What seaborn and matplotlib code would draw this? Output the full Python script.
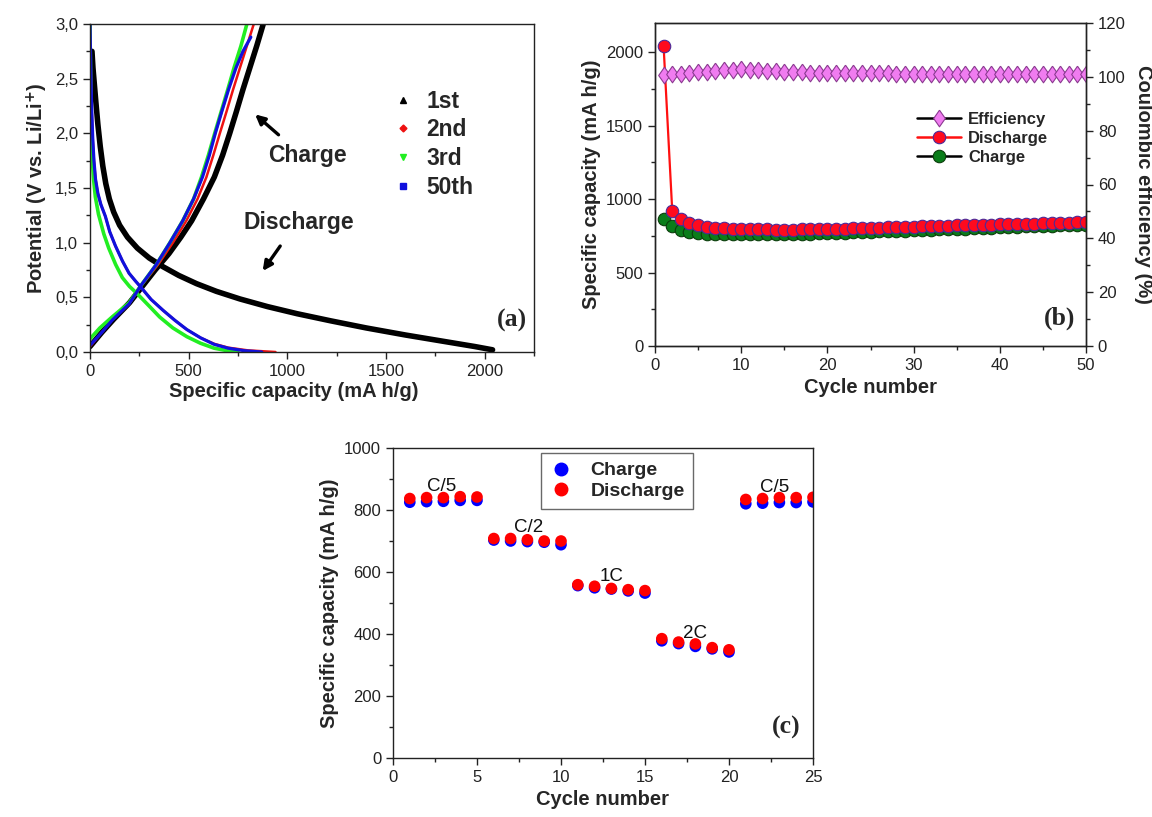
import matplotlib
matplotlib.use("Agg")
import matplotlib.pyplot as plt
import seaborn as sns
import pandas as pd
from matplotlib.ticker import MultipleLocator, FuncFormatter
from matplotlib.lines import Line2D

sns.set_style("ticks")
plt.rcParams['font.family'] = ['Liberation Sans', 'DejaVu Sans']
plt.rcParams['axes.linewidth'] = 1.0
plt.rcParams['axes.edgecolor'] = '#222222'

# ---------------- (a) charge / discharge profiles ----------------
# capacity (mA h/g) and potential (V)
cap_d1 = [10, 15, 22, 30, 40, 52, 65, 80, 98, 120, 150, 190, 240, 300, 370, 450, 540, 640, 760, 900, 1050,
          1220, 1400, 1600, 1800, 1950, 2040]
v_d1 = [2.75, 2.6, 2.45, 2.28, 2.08, 1.88, 1.70, 1.54, 1.40, 1.28, 1.16, 1.05, 0.95, 0.86, 0.78, 0.70, 0.625,
        0.555, 0.485, 0.415, 0.35, 0.285, 0.22, 0.155, 0.095, 0.05, 0.02]
cap_c1 = [0, 60, 120, 200, 265, 330, 400, 460, 515, 575, 630, 672, 708, 742, 775, 810, 845, 878]
v_c1 = [0.05, 0.18, 0.30, 0.45, 0.60, 0.75, 0.90, 1.05, 1.2, 1.4, 1.6, 1.8, 2.0, 2.2, 2.4, 2.6, 2.8, 3.0]

cap_d2 = [0, 2, 5, 9, 14, 20, 28, 40, 55, 78, 100, 129, 165, 198, 230, 259, 310, 371, 430, 491, 560, 629,
          700, 800, 940]
v_d2 = [3.0, 2.8, 2.5, 2.2, 1.95, 1.75, 1.58, 1.45, 1.35, 1.24, 1.1, 0.97, 0.83, 0.72, 0.65, 0.59, 0.48, 0.38,
        0.29, 0.205, 0.13, 0.075, 0.04, 0.015, 0.0]
cap_c2 = [0, 60, 112, 198, 262, 345, 420, 488, 545, 590, 625, 658, 692, 725, 760, 795, 830]
v_c2 = [0.05, 0.18, 0.29, 0.44, 0.61, 0.80, 1.0, 1.2, 1.4, 1.6, 1.8, 2.0, 2.2, 2.4, 2.6, 2.8, 3.0]

cap_d3 = [0, 1, 3, 5, 8, 12, 18, 27, 43, 70, 95, 130, 164, 200, 241, 300, 353, 420, 491, 560, 629, 700, 750]
v_d3 = [3.0, 2.8, 2.5, 2.2, 1.95, 1.75, 1.58, 1.42, 1.26, 1.08, 0.95, 0.80, 0.68, 0.60, 0.53, 0.42, 0.32, 0.22,
        0.14, 0.08, 0.035, 0.01, 0.0]
cap_c3 = [0, 50, 112, 198, 259, 336, 405, 470, 525, 565, 600, 632, 665, 698, 730, 765, 795]
v_c3 = [0.12, 0.22, 0.32, 0.45, 0.61, 0.80, 1.0, 1.2, 1.4, 1.6, 1.8, 2.0, 2.2, 2.4, 2.6, 2.8, 3.0]

cap_d50 = [0, 2, 5, 9, 14, 20, 28, 40, 55, 78, 100, 129, 165, 198, 230, 259, 310, 371, 430, 491, 560, 629,
           700, 780, 870]
v_d50 = [3.0, 2.8, 2.5, 2.2, 1.95, 1.75, 1.58, 1.45, 1.35, 1.24, 1.1, 0.97, 0.83, 0.72, 0.65, 0.59, 0.48, 0.38,
         0.29, 0.205, 0.13, 0.07, 0.035, 0.012, 0.0]
cap_c50 = [0, 60, 112, 198, 259, 336, 405, 470, 525, 570, 605, 635, 668, 702, 740, 775, 815]
v_c50 = [0.06, 0.18, 0.29, 0.44, 0.61, 0.80, 1.0, 1.2, 1.4, 1.6, 1.8, 2.0, 2.2, 2.4, 2.6, 2.75, 2.88]

# ---------------- (b) cycling ----------------
cycles_b = list(range(1, 51))
discharge_b = [2040, 920, 866, 840, 824, 813, 806, 801, 798, 796, 795, 794, 794, 793, 793, 792, 794, 795, 796, 797,
               799, 800, 801, 803, 805, 806, 808, 809, 811, 813, 815, 816, 818, 819, 821, 822, 823, 825, 827, 828,
               830, 831, 832, 834, 836, 837, 838, 840, 842, 843]
charge_b = [868, 815, 790, 777, 770, 766, 763, 762, 761, 761, 761, 761, 761, 762, 762, 763, 764, 765, 767, 768,
            770, 772, 774, 776, 778, 780, 782, 784, 786, 788, 790, 792, 794, 796, 798, 800, 802, 804, 806, 808,
            810, 812, 814, 816, 818, 819, 821, 823, 825, 827]
efficiency_b = [100.6, 100.9, 101.1, 101.4, 101.7, 101.9, 102.2, 102.5, 102.7, 102.8, 102.7, 102.5, 102.3, 102.1,
                101.9, 101.8, 101.7, 101.6, 101.5, 101.5, 101.4, 101.4, 101.4, 101.3, 101.3, 101.3, 101.3, 101.2,
                101.2, 101.2, 101.2, 101.2, 101.2, 101.1, 101.1, 101.1, 101.1, 101.1, 101.1, 101.1, 101.1, 101.0,
                101.0, 101.0, 101.0, 101.0, 101.0, 101.0, 101.0, 101.0]

# ---------------- (c) rate capability ----------------
cycles_c = list(range(1, 26))
charge_c = [825, 827, 828, 831, 831, 703, 700, 698, 696, 688, 556, 549, 545, 539, 532,
            378, 369, 360, 352, 342, 820, 822, 824, 824, 826]
discharge_c = [837, 840, 840, 843, 842, 708, 708, 704, 700, 700, 559, 554, 547, 543, 540,
               385, 374, 368, 356, 349, 834, 837, 840, 840, 841]
rate_labels = ["C/5", "C/2", "1C", "2C", "C/5"]
rate_x = [2.9, 8.1, 13.0, 18.0, 22.7]
rate_y = [876, 742, 586, 403, 874]

W, H = 1152, 817


def box(l, t, r, b):
    return [l / W, 1 - b / H, (r - l) / W, (b - t) / H]


fig = plt.figure(figsize=(11.52, 8.17), dpi=100)
ax_a = fig.add_axes(box(90, 24, 534, 352))
ax_b = fig.add_axes(box(655, 23, 1086, 346))
ax_c = fig.add_axes(box(393, 448, 813, 758))

label_kw = dict(fontsize=14.5, fontweight='bold')
serif = dict(family=['Liberation Serif', 'DejaVu Serif'], fontweight='bold', fontsize=18.5)


def style_ticks(ax, left=True, right=False):
    ax.tick_params(which='both', direction='out', top=False, right=right, left=left,
                   labelsize=12, colors='#222222', width=1)
    ax.tick_params(which='major', length=5)
    ax.tick_params(which='minor', length=3)


# ---- (a)
curves = [
    (cap_d1, v_d1, 'black', 4.0), (cap_c1, v_c1, 'black', 4.0),
    (cap_d2, v_d2, '#ee1111', 1.8), (cap_c2, v_c2, '#ee1111', 1.8),
    (cap_d3, v_d3, '#22ee22', 2.6), (cap_c3, v_c3, '#22ee22', 2.6),
    (cap_d50, v_d50, '#1010dd', 2.3), (cap_c50, v_c50, '#1010dd', 2.3),
]
for cap, v, col, lw in curves:
    df = pd.DataFrame({'cap': cap, 'V': v})
    sns.lineplot(data=df, x='cap', y='V', sort=False, estimator=None, color=col, lw=lw, ax=ax_a)

ax_a.set_xlim(0, 2250)
ax_a.set_ylim(0, 3.0)
ax_a.xaxis.set_major_locator(MultipleLocator(500))
ax_a.xaxis.set_minor_locator(MultipleLocator(250))
ax_a.yaxis.set_major_locator(MultipleLocator(0.5))
ax_a.yaxis.set_minor_locator(MultipleLocator(0.25))
ax_a.yaxis.set_major_formatter(FuncFormatter(lambda v, p: f"{v:.1f}".replace('.', ',')))
style_ticks(ax_a)
ax_a.set_xlabel('Specific capacity (mA h/g)', **label_kw)
ax_a.xaxis.set_label_coords(0.46, -0.09)
ax_a.set_ylabel(r'Potential (V vs. Li/Li$^{\mathbf{+}}$)', **label_kw)

handles_a = [
    Line2D([], [], ls='none', marker='^', color='black', ms=5),
    Line2D([], [], ls='none', marker='D', color='#ee1111', ms=3.5),
    Line2D([], [], ls='none', marker='v', color='#22ee22', ms=5),
    Line2D([], [], ls='none', marker='s', color='#1010dd', ms=4),
]
ax_a.legend(handles_a, ['1st', '2nd', '3rd', '50th'], loc='upper left', bbox_to_anchor=(0.68, 0.80),
            frameon=False, prop={'weight': 'bold', 'size': 16.5}, handlelength=1.0, handletextpad=0.5,
            labelspacing=0.25, borderpad=0, borderaxespad=0)
ax_a.annotate('', xy=(826, 2.19), xytext=(966, 1.97),
              arrowprops=dict(arrowstyle='-|>', color='black', lw=2.4, mutation_scale=14))
ax_a.text(1102, 1.80, 'Charge', ha='center', va='center', fontsize=16.5, fontweight='bold')
ax_a.annotate('', xy=(867, 0.72), xytext=(972, 0.99),
              arrowprops=dict(arrowstyle='-|>', color='black', lw=2.4, mutation_scale=14))
ax_a.text(1057, 1.18, 'Discharge', ha='center', va='center', fontsize=16.5, fontweight='bold')
ax_a.text(0.985, 0.06, '(a)', transform=ax_a.transAxes, ha='right', va='bottom', **serif)

# ---- (b)
sns.lineplot(x=cycles_b, y=charge_b, color='black', lw=1.2, marker='o', ms=9,
             markerfacecolor='#0a7d1a', markeredgecolor='#0b3d0b', markeredgewidth=0.8, ax=ax_b)
sns.lineplot(x=cycles_b, y=discharge_b, color='#ff1010', lw=1.6, marker='o', ms=9,
             markerfacecolor='#ff0a1e', markeredgecolor='#4a2a9a', markeredgewidth=0.8, ax=ax_b)
ax_b.set_xlim(0, 50)
ax_b.set_ylim(0, 2200)
ax_b.xaxis.set_major_locator(MultipleLocator(10))
ax_b.xaxis.set_minor_locator(MultipleLocator(5))
ax_b.yaxis.set_major_locator(MultipleLocator(500))
ax_b.yaxis.set_minor_locator(MultipleLocator(250))
style_ticks(ax_b)
ax_b.set_xlabel('Cycle number', **label_kw)
ax_b.set_ylabel('Specific capacity (mA h/g)', **label_kw)

diamond = [(0, 1), (0.7, 0), (0, -1), (-0.7, 0), (0, 1)]
ax_b2 = ax_b.twinx()
sns.lineplot(x=cycles_b, y=efficiency_b, color='black', lw=1.2, marker=diamond, ms=12,
             markerfacecolor='#f07cf0', markeredgecolor='#8a3a90', markeredgewidth=0.8, ax=ax_b2)
ax_b2.set_ylim(0, 120)
ax_b2.yaxis.set_major_locator(MultipleLocator(20))
ax_b2.yaxis.set_minor_locator(MultipleLocator(10))
style_ticks(ax_b2, left=False, right=True)
ax_b2.set_ylabel('Coulombic efficiency (%)', rotation=-90, labelpad=20, **label_kw)

handles_b = [
    Line2D([], [], color='black', lw=1.8, marker=diamond, ms=12, mfc='#f07cf0', mec='#8a3a90', mew=0.8),
    Line2D([], [], color='#ff1010', lw=1.8, marker='o', ms=9, mfc='#ff0a1e', mec='#4a2a9a', mew=0.8),
    Line2D([], [], color='black', lw=1.8, marker='o', ms=9, mfc='#0a7d1a', mec='#0b3d0b', mew=0.8),
]
ax_b2.legend(handles_b, ['Efficiency', 'Discharge', 'Charge'], loc='upper left', bbox_to_anchor=(0.608, 0.726),
             frameon=False, prop={'weight': 'bold', 'size': 12}, handlelength=2.65, handletextpad=0.4,
             labelspacing=0.25, borderpad=0, borderaxespad=0)
ax_b2.text(0.975, 0.05, '(b)', transform=ax_b2.transAxes, ha='right', va='bottom', **serif)

# ---- (c)
sns.scatterplot(x=cycles_c, y=charge_c, color='#0000ff', s=70, edgecolor='none', ax=ax_c)
sns.scatterplot(x=cycles_c, y=discharge_c, color='#ff0000', s=70, edgecolor='none', ax=ax_c)
for lab, x, y in zip(rate_labels, rate_x, rate_y):
    ax_c.text(x, y, lab, ha='center', va='center', fontsize=13.5, color='#111111')
ax_c.set_xlim(0, 25)
ax_c.set_ylim(0, 1000)
ax_c.xaxis.set_major_locator(MultipleLocator(5))
ax_c.xaxis.set_minor_locator(MultipleLocator(2.5))
ax_c.yaxis.set_major_locator(MultipleLocator(200))
ax_c.yaxis.set_minor_locator(MultipleLocator(100))
style_ticks(ax_c)
ax_c.set_xlabel('Cycle number', **label_kw)
ax_c.set_ylabel('Specific capacity (mA h/g)', **label_kw)
handles_c = [
    Line2D([], [], ls='none', marker='o', ms=9, color='#0000ff'),
    Line2D([], [], ls='none', marker='o', ms=9, color='#ff0000'),
]
leg = ax_c.legend(handles_c, ['Charge', 'Discharge'], loc='upper left', bbox_to_anchor=(0.352, 0.984),
                  frameon=True, fancybox=False, prop={'weight': 'bold', 'size': 14}, handlelength=1.2,
                  handletextpad=0.9, labelspacing=0.15, borderpad=0.45, borderaxespad=0)
leg.get_frame().set_edgecolor('#444444')
leg.get_frame().set_linewidth(1.0)
ax_c.text(0.97, 0.06, '(c)', transform=ax_c.transAxes, ha='right', va='bottom', **serif)

fig.savefig('out.png', dpi=100)
